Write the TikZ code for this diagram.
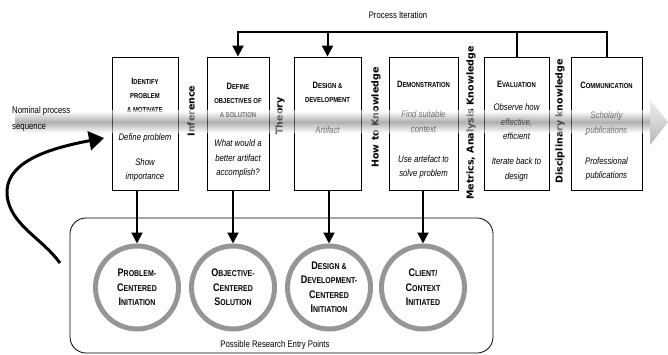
\documentclass[tikz,border=0pt]{standalone}
\usepackage{fontspec}
\setmainfont{Liberation Sans}
\newfontfamily\narrowfont[FakeStretch=0.82]{Liberation Sans}
\newfontfamily\knowfont{DejaVu Sans}
\usepackage{tikz}
\usetikzlibrary{arrows.meta}
\definecolor{RingGray}{RGB}{150,150,150}
\definecolor{BandGray}{RGB}{110,110,110}
\tikzset{%
  stepbox/.style={draw, line width=0.8pt, minimum height=133pt, inner sep=0pt},
  boxtitle/.style={font=\narrowfont\bfseries\fontsize{7.2}{14}\selectfont, align=center, inner sep=0pt},
  boxbody/.style={font=\narrowfont\itshape\fontsize{9.5}{14.5}\selectfont, align=center, inner sep=0pt},
  knowlabel/.style={font=\knowfont\bfseries\fontsize{9.5}{10}\selectfont, rotate=90, inner sep=0pt},
  entryring/.style={circle, draw=RingGray, line width=5pt, minimum size=83pt, inner sep=0pt,
    align=center, font=\narrowfont\bfseries\fontsize{8.5}{14.5}\selectfont},
  flow/.style={line width=2pt, -{Triangle[length=11pt,width=11pt]}},
  plain text/.style={font=\narrowfont\fontsize{9.5}{16}\selectfont, inner sep=0pt}
}
\newcommand*{\boxcap}[1]{{\fontsize{9.2}{14}\selectfont #1}}
\newcommand*{\ringcap}[1]{{\fontsize{11}{14.5}\selectfont #1}}

\begin{document}
\begin{tikzpicture}[x=1pt,y=-1pt]
  \useasboundingbox (0,0) rectangle (668,355);
  % the six steps
  \node[stepbox, minimum width=66pt] (ident) at (145,123.5) {};
  \node[stepbox, minimum width=62pt] (define) at (238,123.5) {};
  \node[stepbox, minimum width=67pt] (design) at (327.5,123.5) {};
  \node[stepbox, minimum width=69pt] (demo) at (423.5,123.5) {};
  \node[stepbox, minimum width=65pt] (eval) at (516.5,123.5) {};
  \node[stepbox, minimum width=71pt] (comm) at (606.5,123.5) {};
  \node[boxtitle] (identT) at (145,95.5) {\boxcap{I}DENTIFY\\PROBLEM\\\& MOTIVATE};
  \node[boxbody] (identB1) at (145,138) {Define problem};
  \node[boxbody] (identB2) at (145,170) {Show\\importance};
  \node[boxtitle] (defineT) at (238,100) {\boxcap{D}EFINE\\OBJECTIVES OF\\A SOLUTION};
  \node[boxbody] (defineB) at (238,159) {What would a\\better artifact\\accomplish?};
  \node[boxtitle] (designT) at (327.5,92.5) {\boxcap{D}ESIGN \&\\DEVELOPMENT};
  \node[boxbody] (designB) at (327.5,130) {Artifact};
  \node[boxtitle] (demoT) at (423.5,84) {\boxcap{D}EMONSTRATION};
  \node[boxbody] (demoB1) at (423.5,121.5) {Find suitable\\context};
  \node[boxbody] (demoB2) at (423.5,167) {Use artefact to\\solve problem};
  \node[boxtitle] (evalT) at (516.5,84) {\boxcap{E}VALUATION};
  \node[boxbody] (evalB1) at (516.5,122) {Observe how\\effective,\\efficient};
  \node[boxbody] (evalB2) at (516.5,169.5) {Iterate back to\\design};
  \node[boxtitle] (commT) at (606.5,85) {\boxcap{C}OMMUNICATION};
  \node[boxbody] (commB1) at (606.5,123.5) {Scholarly\\publications};
  \node[boxbody] (commB2) at (606.5,169) {Professional\\publications};
  % knowledge between the steps
  \foreach \kx/\ky/\kname/\ktext in {191/111/infer/Inference, 280/116/theory/Theory,
      376/117.5/howto/How to Knowledge, 471/123/metrics/{Metrics, Analysis Knowledge},
      560/121.5/discip/Disciplinary knowledge}
    \node[knowlabel] (\kname) at (\kx,\ky) {\ktext};
  % process iteration
  \coordinate (iterTop) at (0,32);
  \draw[flow] (comm.north) |- (define.north |- iterTop) -- (define.north);
  \draw[line width=2pt] (eval.north) -- (eval.north |- iterTop);
  \draw[flow] (design.north |- iterTop) -- (design.north);
  \node[plain text] (iterLabel) at (398,15) {Process Iteration};
  % entry points
  \node[draw, line width=0.8pt, rounded corners=16pt, minimum width=423pt,
    minimum height=135pt, inner sep=0pt] (entryBox) at (281.5,285.5) {};
  \node[plain text] (entryLabel) at (275,345) {Possible Research Entry Points};
  \node[entryring] (probc) at (137,287.5) {\ringcap{P}ROBLEM-\\\ringcap{C}ENTERED\\\ringcap{I}NITIATION};
  \node[entryring] (objc) at (233,287.5) {\ringcap{O}BJECTIVE-\\\ringcap{C}ENTERED\\\ringcap{S}OLUTION};
  \node[entryring] (devc) at (329,287.5) {\ringcap{D}ESIGN \&\\\ringcap{D}EVELOPMENT-\\\ringcap{C}ENTERED\\\ringcap{I}NITIATION};
  \node[entryring] (clientc) at (423,287.5) {\ringcap{C}LIENT/\\\ringcap{C}ONTEXT\\\ringcap{I}NITIATED};
  \foreach \step/\ring in {ident/probc, define/objc, design/devc, demo/clientc}
    \draw[flow] (\ring.north |- \step.south) -- (\ring.north);
  % nominal sequence band
  \shade[top color=white, bottom color=white, middle color=BandGray, opacity=0.55]
    (15,111) rectangle (650,133);
  \shade[top color=black!8, bottom color=black!35, opacity=0.8]
    (650,100) -- (668,122) -- (650,145) -- cycle;
  \node[plain text, align=left, anchor=west] (nominal) at (12,119.5) {Nominal process\\sequence};
  % loop back into the first step
  \coordinate (loopStart) at (60,263);
  \coordinate (loopEnd) at (104,138);
  \draw[line width=3pt, -{Triangle[length=15pt,width=19pt]}] (loopStart)
    .. controls (42,238) and (10,225) .. (7,195)
    .. controls (5,165) and (40,150) .. (loopEnd);
\end{tikzpicture}
\end{document}
